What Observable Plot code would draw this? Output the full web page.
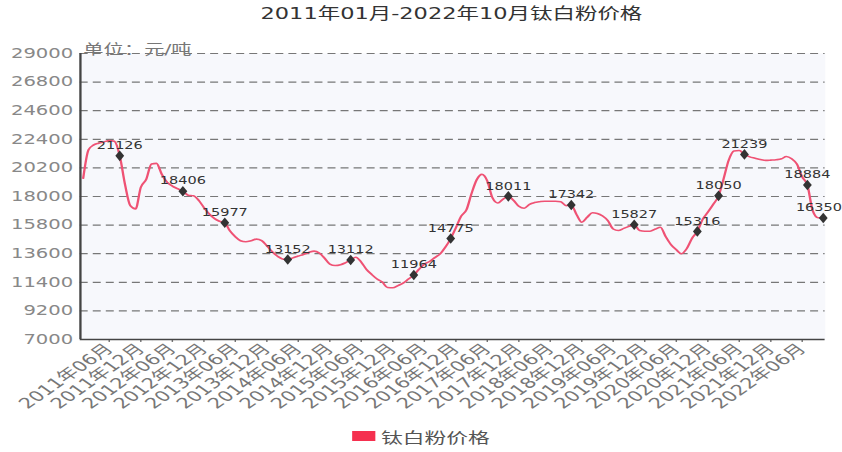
<!DOCTYPE html>
<html><head><meta charset="utf-8">
<script src="https://cdn.jsdelivr.net/npm/d3@7"></script>
<script src="https://cdn.jsdelivr.net/npm/@observablehq/plot@0.6"></script>
<style>
html,body{margin:0;padding:0;background:#fff;overflow:hidden;}
#wrap{width:581px;transform:scaleX(1.4492);transform-origin:0 0;font-family:"DejaVu Sans","Noto Sans CJK SC",sans-serif;}
#title{height:30px;line-height:29px;font-size:15.5px;color:#333;text-align:center;padding-left:42px;box-sizing:border-box;white-space:nowrap;}
#legend{height:32px;display:flex;justify-content:center;align-items:center;font-size:15px;color:#555;}
#legend .sw{width:16px;height:10px;background:#f5304f;margin-right:4px;}
svg{display:block;}
</style></head>
<body>
<div id="wrap">
  <div id="title"></div>
  <div id="chart"></div>
  <div id="legend"><span class="sw"></span><span id="legtext"></span></div>
</div>
<script>
const titleText = "2011年01月-2022年10月钛白粉价格";
const seriesName = "钛白粉价格";
const unitText = "单位：元/吨";
const startYear = 2011;
// monthly prices, 2011-01 … 2022-10
const prices = [
  19400,21600,21950,22100,22200,22300,22250,21126,18900,17300,17050,18700,
  19300,20500,20550,19700,19100,18800,18600,18406,18100,18050,17700,17150,
  16650,16300,16100,15977,15350,14900,14600,14520,14600,14720,14600,14200,
  13750,13400,13200,13152,13280,13420,13540,13700,13800,13650,13250,12800,
  12690,12750,12900,13112,13330,12950,12400,12000,11650,11420,11000,10980,
  11150,11350,11650,11964,12400,12800,13000,13300,13590,14100,14775,15600,
  16500,17000,18200,19300,19700,19200,17900,17500,17800,18011,17690,17250,
  17100,17400,17530,17600,17640,17640,17640,17600,17300,17342,16600,16020,
  16400,16750,16700,16500,16150,15500,15380,15550,15700,15827,15380,15330,
  15330,15500,15640,14900,14300,13900,13600,14000,14800,15316,16250,16800,
  17400,18050,19300,20800,21500,21540,21239,21050,20950,20850,20780,20800,
  20830,20900,21080,20900,20500,19500,18884,16900,16360,16350
];
const markDates = ["2011-08","2012-08","2013-04","2014-04","2015-04","2016-04","2016-11","2017-10","2018-10","2019-10","2020-10","2021-02","2021-07","2022-07","2022-10"];
const markValues = [21126,18406,15977,13152,13112,11964,14775,18011,17342,15827,15316,18050,21239,18884,16350];
const tickLabels = ["2011年06月","2011年12月","2012年06月","2012年12月","2013年06月","2013年12月","2014年06月","2014年12月","2015年06月","2015年12月","2016年06月","2016年12月","2017年06月","2017年12月","2018年06月","2018年12月","2019年06月","2019年12月","2020年06月","2020年12月","2021年06月","2021年12月","2022年06月"];
const yTicks = [7000,9200,11400,13600,15800,18000,20200,22400,24600,26800,29000];

document.getElementById("title").textContent = titleText;
document.getElementById("legtext").textContent = seriesName;

const ym = s => new Date(Date.UTC(+s.slice(0,4), +s.slice(5,7)-1, 1));
const data = prices.map((v,i) => ({date: new Date(Date.UTC(startYear, i, 1)), value: v}));
const marks = markDates.map((d,i) => ({date: ym(d), value: markValues[i], last: i === markDates.length - 1}));
const tickDates = tickLabels.map(ym);
const labelMap = new Map(tickDates.map((d,i) => [+d, tickLabels[i]]));
const x0 = new Date(Date.UTC(2010,11,16)), x1 = new Date(Date.UTC(2022,9,13));

const chart = Plot.plot({
  width: 581, height: 390,
  marginTop: 23, marginBottom: 81, marginLeft: 55, marginRight: 12,
  style: {fontFamily: '"DejaVu Sans","Noto Sans CJK SC",sans-serif', background: "transparent", overflow: "visible"},
  x: {type: "utc", domain: [x0, x1]},
  y: {domain: [7000, 29000]},
  marks: [
    Plot.frame({fill: "#f7f8fc", stroke: null}),
    Plot.gridY(yTicks.filter(t => t > 7000), {stroke: "#777", strokeOpacity: 1, strokeWidth: 1.2, strokeDasharray: "5.5,3.5"}),
    Plot.axisY({ticks: yTicks, tickFormat: d => String(d), tickSize: 0, tickPadding: 5, fontSize: 13.5, color: "#888", label: null}),
    Plot.axisX({ticks: tickDates, tickFormat: d => labelMap.get(+d), tickRotate: -45, tickSize: 3, tickPadding: 4, fontSize: 14.5, color: "#777", label: null}),
    Plot.ruleY([7000], {stroke: "#444", strokeWidth: 1.6}),
    Plot.ruleX([x0], {stroke: "#444", strokeWidth: 1.6}),
    Plot.lineY(data, {x: "date", y: "value", stroke: "#ef5274", strokeWidth: 1.6, curve: "monotone-x"}),
    Plot.dot(marks, {x: "date", y: "value", symbol: "diamond", r: 3.2, fill: "#333", stroke: null}),
    Plot.text(marks.filter(d => !d.last), {x: "date", y: "value", text: d => String(d.value), dy: -10, fontSize: 10, fill: "#333"}),
    Plot.text(marks.filter(d => d.last), {x: "date", y: "value", text: d => String(d.value), dy: -10, dx: -3, fontSize: 10, fill: "#333"}),
    Plot.text([unitText], {text: d => d, frameAnchor: "top-left", dx: 2, dy: -4, lineAnchor: "middle", textAnchor: "start", fontSize: 14, fill: "#777"})
  ]
});
document.getElementById("chart").appendChild(chart);
</script>
</body></html>
